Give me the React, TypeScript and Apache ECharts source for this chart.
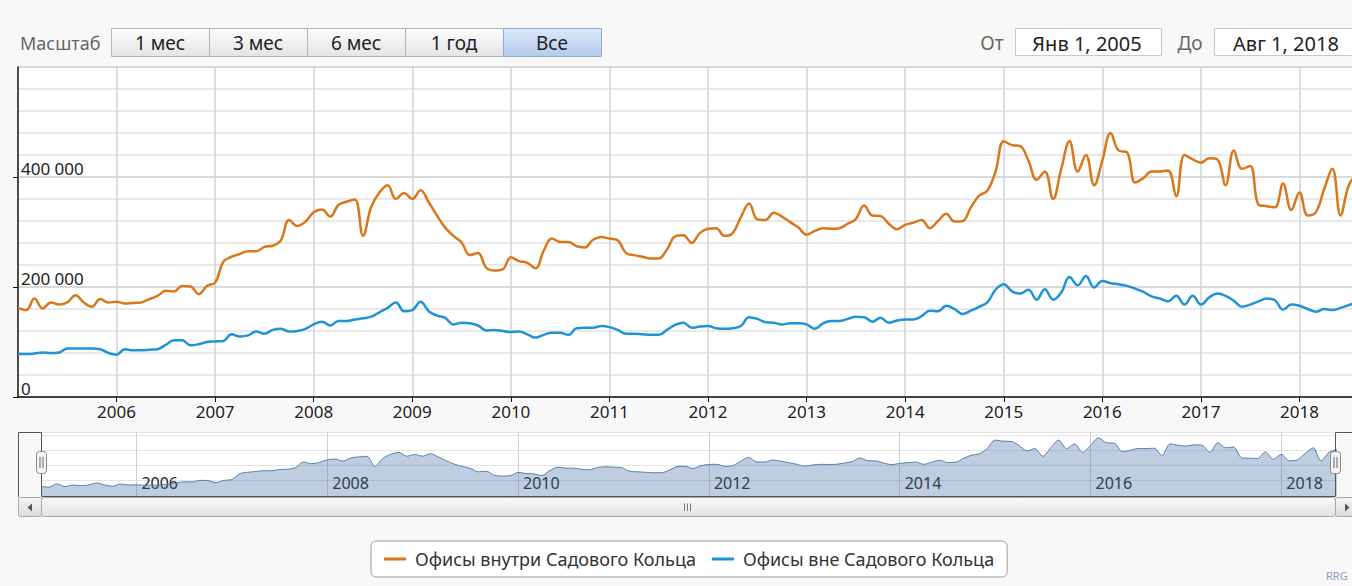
import React, { useEffect, useRef } from 'react';
import * as echarts from 'echarts';

// ---------- DATA ----------
const startYear = 2005; // Jan 1, 2005
const endYear = 2018 + 7 / 12; // Aug 1, 2018
const seriesNames = ['Офисы внутри Садового Кольца', 'Офисы вне Садового Кольца'];

// monthly values, thousands of m², Jan 2005 .. Aug 2018
const insideRing = [
  162, 158, 179, 161, 172, 168, 172, 185, 172, 164, 178, 172,
  173, 170, 171, 172, 178, 184, 193, 192, 202, 201, 187, 202,
  208, 246, 255, 260, 265, 265, 273, 275, 285, 322, 311, 319,
  336, 341, 328, 349, 355, 359, 293, 346, 372, 385, 360, 371,
  360, 376, 354, 330, 308, 293, 281, 258, 262, 235, 230, 232,
  254, 247, 244, 234, 266, 288, 282, 282, 274, 272, 286, 291,
  288, 285, 262, 258, 255, 252, 252, 268, 292, 294, 280, 298,
  306, 307, 293, 298, 327, 352, 323, 322, 335, 328, 318, 308,
  295, 302, 307, 306, 307, 315, 324, 348, 330, 329, 315, 305,
  313, 317, 322, 307, 320, 333, 319, 320, 345, 366, 375, 410,
  465, 458, 456, 430, 395, 410, 360, 415, 465, 410, 440, 385,
  430, 480, 448, 445, 390, 398, 410, 410, 412, 365, 440, 432,
  426, 434, 432, 385, 448, 415, 420, 350, 347, 345, 388, 340,
  372, 330, 336, 378, 415, 330, 385, 405,
];
const outsideRing = [
  78, 78, 79, 81, 80, 81, 88, 88, 88, 88, 87, 80,
  77, 87, 85, 85, 86, 87, 95, 103, 103, 94, 96, 100,
  101, 102, 114, 110, 112, 119, 115, 122, 124, 119, 120, 124,
  132, 137, 130, 138, 138, 141, 143, 146, 154, 162, 172, 156,
  158, 173, 156, 148, 144, 132, 135, 134, 130, 121, 122, 120,
  118, 119, 114, 108, 113, 117, 117, 113, 125, 126, 126, 129,
  127, 122, 115, 115, 114, 113, 113, 122, 131, 135, 126, 128,
  129, 125, 124, 125, 129, 145, 142, 136, 135, 132, 134, 134,
  132, 124, 134, 138, 138, 142, 146, 145, 137, 144, 135, 139,
  141, 141, 147, 157, 156, 166, 160, 151, 157, 164, 172, 195,
  205, 192, 188, 195, 177, 196, 177, 190, 218, 203, 220, 199,
  211, 207, 205, 202, 197, 191, 183, 179, 174, 184, 168, 184,
  168, 181, 188, 184, 175, 164, 168, 174, 179, 176, 159, 168,
  166, 160, 155, 160, 158, 162, 167, 172,
];
const rangeButtons = ['1 мес', '3 мес', '6 мес', '1 год', 'Все'];
const selectedRange = 'Все';
const zoomLabel = 'Масштаб';
const fromText = 'От';
const toText = 'До';
const fromDate = 'Янв 1, 2005';
const toDate = 'Авг 1, 2018';
const creditText = 'RRG';

// ---------- STYLE ----------
const FONT = 'Noto Sans';
const ORANGE = '#d9771b';
const BLUE = '#1e93d6';

const toPoints = (arr: number[]) => arr.map((v, i) => [startYear + i / 12, v * 1000]);
const fmtThousands = (v: number) => String(Math.round(v)).replace(/\B(?=(\d{3})+(?!\d))/g, ' ');

function buildGraphics() {
  const g: any[] = [];
  const grad = (a: string, b: string) => new echarts.graphic.LinearGradient(0, 0, 0, 1, [
    { offset: 0, color: a }, { offset: 1, color: b },
  ]);
  // toolbar
  g.push({ type: 'text', z: 100, style: { x: 20, y: 43, text: zoomLabel, fill: '#666', font: `18px ${FONT}`, verticalAlign: 'middle' } });
  const bx0 = 111, bw = 98, by = 28, bh = 28;
  rangeButtons.forEach((t, i) => {
    const sel = t === selectedRange;
    g.push({
      type: 'rect', z: 100,
      shape: { x: bx0 + i * bw + 0.5, y: by + 0.5, width: bw, height: bh },
      style: { fill: sel ? grad('#dbe8f9', '#b4cbec') : grad('#fdfdfd', '#e4e4e4'), stroke: sel ? '#8eaad6' : '#b4b4b4', lineWidth: 1 },
    });
    g.push({ type: 'text', z: 101, style: { x: bx0 + i * bw + bw / 2, y: by + bh / 2 + 1, text: t, fill: '#222', font: `19px ${FONT}`, align: 'center', verticalAlign: 'middle' } });
  });
  // date inputs
  g.push({ type: 'text', z: 100, style: { x: 992, y: 43, text: fromText, fill: '#666', font: `19px ${FONT}`, align: 'center', verticalAlign: 'middle' } });
  g.push({ type: 'rect', z: 100, shape: { x: 1015.5, y: 28.5, width: 146, height: 27 }, style: { fill: '#fff', stroke: '#c8c8c8', lineWidth: 1 } });
  g.push({ type: 'text', z: 101, style: { x: 1087, y: 43, text: fromDate, fill: '#222', font: `20px ${FONT}`, align: 'center', verticalAlign: 'middle' } });
  g.push({ type: 'text', z: 100, style: { x: 1190, y: 43, text: toText, fill: '#666', font: `19px ${FONT}`, align: 'center', verticalAlign: 'middle' } });
  g.push({ type: 'rect', z: 100, shape: { x: 1214.5, y: 28.5, width: 146, height: 27 }, style: { fill: '#fff', stroke: '#c8c8c8', lineWidth: 1 } });
  g.push({ type: 'text', z: 101, style: { x: 1286, y: 43, text: toDate, fill: '#222', font: `20px ${FONT}`, align: 'center', verticalAlign: 'middle' } });

  // navigator outline
  g.push({
    type: 'polyline', z: 100,
    shape: { points: [[18.5, 497], [18.5, 432.5], [41.5, 432.5], [41.5, 496.5], [1335.5, 496.5], [1335.5, 432.5], [1352, 432.5]] },
    style: { stroke: '#555', lineWidth: 1, fill: 'none' },
  });
  // scrollbar
  g.push({ type: 'rect', z: 100, shape: { x: 18.5, y: 497.5, width: 23, height: 19, r: 2 }, style: { fill: grad('#f6f6f6', '#dcdcdc'), stroke: '#a8a8a8', lineWidth: 1 } });
  g.push({ type: 'polygon', z: 101, shape: { points: [[32, 503.5], [32, 511.5], [27.5, 507.5]] }, style: { fill: '#555' } });
  g.push({ type: 'rect', z: 100, shape: { x: 41.5, y: 497.5, width: 1294, height: 19, r: 3 }, style: { fill: grad('#fbfbfb', '#e2e2e2'), stroke: '#a8a8a8', lineWidth: 1 } });
  [684.5, 687.5, 690.5].forEach((x) => {
    g.push({ type: 'line', z: 101, shape: { x1: x, y1: 503.5, x2: x, y2: 511 }, style: { stroke: '#777', lineWidth: 1 } });
  });
  g.push({ type: 'rect', z: 100, shape: { x: 1335.5, y: 497.5, width: 23, height: 19, r: 2 }, style: { fill: grad('#f6f6f6', '#dcdcdc'), stroke: '#a8a8a8', lineWidth: 1 } });
  g.push({ type: 'polygon', z: 101, shape: { points: [[1345, 503.5], [1345, 511.5], [1349.5, 507.5]] }, style: { fill: '#555' } });
  // handles
  [41.5, 1335.5].forEach((cx) => {
    g.push({ type: 'rect', z: 102, shape: { x: cx - 5, y: 451.5, width: 10, height: 22, r: 3 }, style: { fill: '#f4f4f4', stroke: '#8a8a8a', lineWidth: 1 } });
    g.push({ type: 'line', z: 103, shape: { x1: cx - 1.5, y1: 457, x2: cx - 1.5, y2: 468 }, style: { stroke: '#666', lineWidth: 1 } });
    g.push({ type: 'line', z: 103, shape: { x1: cx + 1.5, y1: 457, x2: cx + 1.5, y2: 468 }, style: { stroke: '#666', lineWidth: 1 } });
  });
  // credits
  g.push({ type: 'text', z: 100, style: { x: 1326, y: 570, text: creditText, fill: '#8c9bb0', font: `11px ${FONT}` } });
  return g;
}

export default function App() {
  const ref = useRef<HTMLDivElement>(null);
  useEffect(() => {
    if (!ref.current) return;
    const chart = echarts.init(ref.current, undefined, { renderer: 'svg' });
    const option: any = {
      animation: false,
      backgroundColor: '#f8f8f8',
      textStyle: { fontFamily: FONT },
      grid: [
        { left: 18, right: -5, top: 67, bottom: 189, show: true, backgroundColor: '#ffffff', borderWidth: 0, outerBoundsMode: 'none' },
        { left: 41, right: 15, top: 432, bottom: 90, show: true, backgroundColor: '#ffffff', borderWidth: 0, outerBoundsMode: 'none' },
      ],
      xAxis: [
        {
          type: 'value', gridIndex: 0, min: startYear, max: endYear, interval: 1,
          axisLine: { show: true, onZero: false, lineStyle: { color: '#111', width: 1.5 } },
          axisTick: { show: true, length: 5, lineStyle: { color: '#111' } },
          axisLabel: {
            show: true, margin: 6, color: '#222', fontSize: 17, fontFamily: FONT,
            showMinLabel: false, showMaxLabel: false,
            formatter: (v: number) => (Math.abs(v - Math.round(v)) < 1e-6 ? String(Math.round(v)) : ''),
          },
          splitLine: { show: true, showMinLine: false, lineStyle: { color: '#d2d2d2', width: 1.5 } },
        },
        {
          type: 'value', gridIndex: 1, min: startYear, max: endYear, interval: 1,
          axisLine: { show: false }, axisTick: { show: false },
          axisLabel: {
            show: true, inside: true, margin: 5, align: 'left', verticalAlign: 'bottom', padding: [0, 0, 0, 5],
            color: '#222', fontSize: 16, fontFamily: FONT, showMinLabel: false, showMaxLabel: false,
            formatter: (v: number) => {
              const r = Math.round(v);
              return Math.abs(v - r) < 1e-6 && r % 2 === 0 ? String(r) : '';
            },
          },
          splitLine: { show: true, lineStyle: { color: ['rgba(0,0,0,0)', '#cfcfcf'], width: 1 } },
        },
      ],
      yAxis: [
        {
          type: 'value', gridIndex: 0, min: 0, max: 600000, interval: 200000,
          axisLine: { show: true, lineStyle: { color: '#111', width: 1.5 } },
          axisTick: { show: true, length: 5, lineStyle: { color: '#111' } },
          minorTick: { show: false, splitNumber: 5 },
          minorSplitLine: { show: true, lineStyle: { color: '#e2e2e2', width: 1.5 } },
          splitLine: { show: true, lineStyle: { color: '#cccccc', width: 1.5 } },
          axisLabel: {
            show: true, inside: true, margin: 3, verticalAlign: 'bottom', color: '#222', fontSize: 17, fontFamily: FONT,
            showMaxLabel: false, formatter: (v: number) => fmtThousands(v),
          },
        },
        {
          type: 'value', gridIndex: 1, min: 100000, max: 518000, interval: 100000,
          axisLine: { show: false }, axisTick: { show: false }, axisLabel: { show: false },
          splitLine: { show: true, lineStyle: { color: '#e4e4e4', width: 1 } },
        },
      ],
      legend: {
        left: 371, top: 541, orient: 'horizontal',
        padding: [9, 13, 9, 13], itemGap: 16, itemWidth: 22, itemHeight: 3,
        borderColor: '#9c9c9c', borderWidth: 1, borderRadius: 5, backgroundColor: '#ffffff',
        icon: 'rect', textStyle: { fontSize: 18, color: '#333', fontFamily: FONT, padding: [0, 0, 0, 4] },
        data: seriesNames,
        selectedMode: false,
      },
      series: [
        {
          name: seriesNames[0], type: 'line', xAxisIndex: 0, yAxisIndex: 0, data: toPoints(insideRing),
          smooth: 0.4, showSymbol: false, color: ORANGE, lineStyle: { color: ORANGE, width: 2.5 }, z: 3,
        },
        {
          name: seriesNames[1], type: 'line', xAxisIndex: 0, yAxisIndex: 0, data: toPoints(outsideRing),
          smooth: 0.4, showSymbol: false, color: BLUE, lineStyle: { color: BLUE, width: 2.5 }, z: 3,
        },
        {
          name: 'navigator', type: 'line', xAxisIndex: 1, yAxisIndex: 1, data: toPoints(insideRing),
          smooth: 0.3, showSymbol: false, color: '#4572a7',
          lineStyle: { color: '#5a7eb0', width: 1 },
          areaStyle: { color: 'rgba(69,114,167,0.5)', origin: 'start' },
          silent: true,
        },
      ],
      graphic: buildGraphics(),
    };
    chart.setOption(option);
    return () => chart.dispose();
  }, []);
  return <div ref={ref} style={{ position: 'fixed', left: 0, top: 0, width: 1352, height: 586 }} />;
}
